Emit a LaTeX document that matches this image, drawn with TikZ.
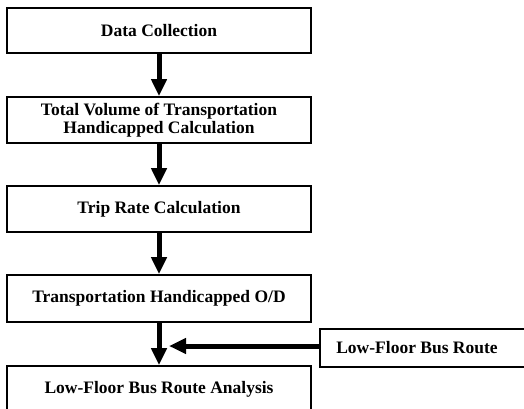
\documentclass[tikz,border=0pt]{standalone}
\usepackage{fontspec}
\setmainfont{Liberation Serif}
\usetikzlibrary{arrows.meta}
\begin{document}
\begin{tikzpicture}[x=1pt,y=-1pt,
  txt/.style={font=\fontsize{17.5}{17.5}\selectfont\bfseries},
  box/.style={txt, draw, line width=1.8pt, minimum width=304pt, inner sep=0pt, align=center},
  flow/.style={line width=5pt, -{Triangle[length=17pt,width=15pt]}}]
\useasboundingbox (0,0) rectangle (524,409);
\clip (0,0) rectangle (524,409);
\node[box, minimum height=45pt] (b1) at (159,30.5) {Data Collection};
\node[box, minimum height=46pt] (b2) at (159,120) {Total Volume of Transportation\\Handicapped Calculation};
\node[box, minimum height=46pt] (b3) at (159,209) {Trip Rate Calculation};
\node[box, minimum height=47pt] (b4) at (159,298.5) {Transportation Handicapped O/D};
\node[box, minimum height=46pt] (b5) at (159,389) {Low-Floor Bus Route Analysis};
\node[draw, line width=1.8pt, minimum width=220pt, minimum height=38pt, inner sep=0pt] (side) at (430,348) {};
\node[txt] (sidetxt) at (417,348) {Low-Floor Bus Route};
\coordinate (j) at (169,346);
\draw[flow] (b1) -- (b2);
\draw[flow] (b2) -- (b3);
\draw[flow] (b3) -- (b4);
\draw[flow] (b4) -- (b5);
\draw[flow] (side.west |- j) -- (j);
\end{tikzpicture}
\end{document}
